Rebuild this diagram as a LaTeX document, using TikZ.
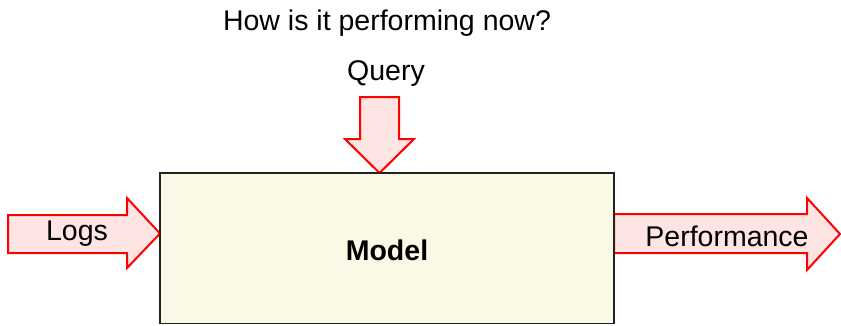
\documentclass[tikz,border=0pt]{standalone}
\usepackage{fontspec}
\setmainfont{Liberation Sans}
\definecolor{arrowfill}{HTML}{FFE4E4}
\definecolor{arrowline}{HTML}{FF0000}
\definecolor{boxfill}{HTML}{FBF9E6}
\definecolor{boxline}{HTML}{222222}
\tikzset{
  fatarrow/.style={draw=arrowline, fill=arrowfill, line width=2pt, line join=miter},
  modelbox/.style={draw=boxline, fill=boxfill, line width=1.6pt},
  lbl/.style={inner sep=0pt, font=\fontsize{28.5}{34}\selectfont}
}
\begin{document}
\begin{tikzpicture}[x=1pt, y=-1pt]
  \useasboundingbox (0,0) rectangle (841,325);
  % input arrow on the left
  \draw[fatarrow] (8,215) -- (127,215) -- (127,198) -- (160,233.5) -- (127,268) -- (127,253) -- (8,253) -- cycle;
  % query arrow from above
  \draw[fatarrow] (360,97) -- (399,97) -- (399,139) -- (414,139) -- (379.5,173) -- (345,139) -- (360,139) -- cycle;
  % output arrow on the right
  \draw[fatarrow] (614,214) -- (807,214) -- (807,198) -- (840,234) -- (807,270) -- (807,253) -- (614,253) -- cycle;
  % the model block
  \draw[modelbox] (160,173) rectangle (614,323.5);
  \node[lbl, font=\fontsize{28.5}{34}\selectfont\bfseries] (model) at (387,250) {Model};
  \node[lbl] (question) at (387,23) {How is it performing now?};
  \node[lbl] (query) at (386,74) {Query};
  \node[lbl] (logs) at (77,234) {Logs};
  \node[lbl] (perf) at (727,236) {Performance};
\end{tikzpicture}
\end{document}
